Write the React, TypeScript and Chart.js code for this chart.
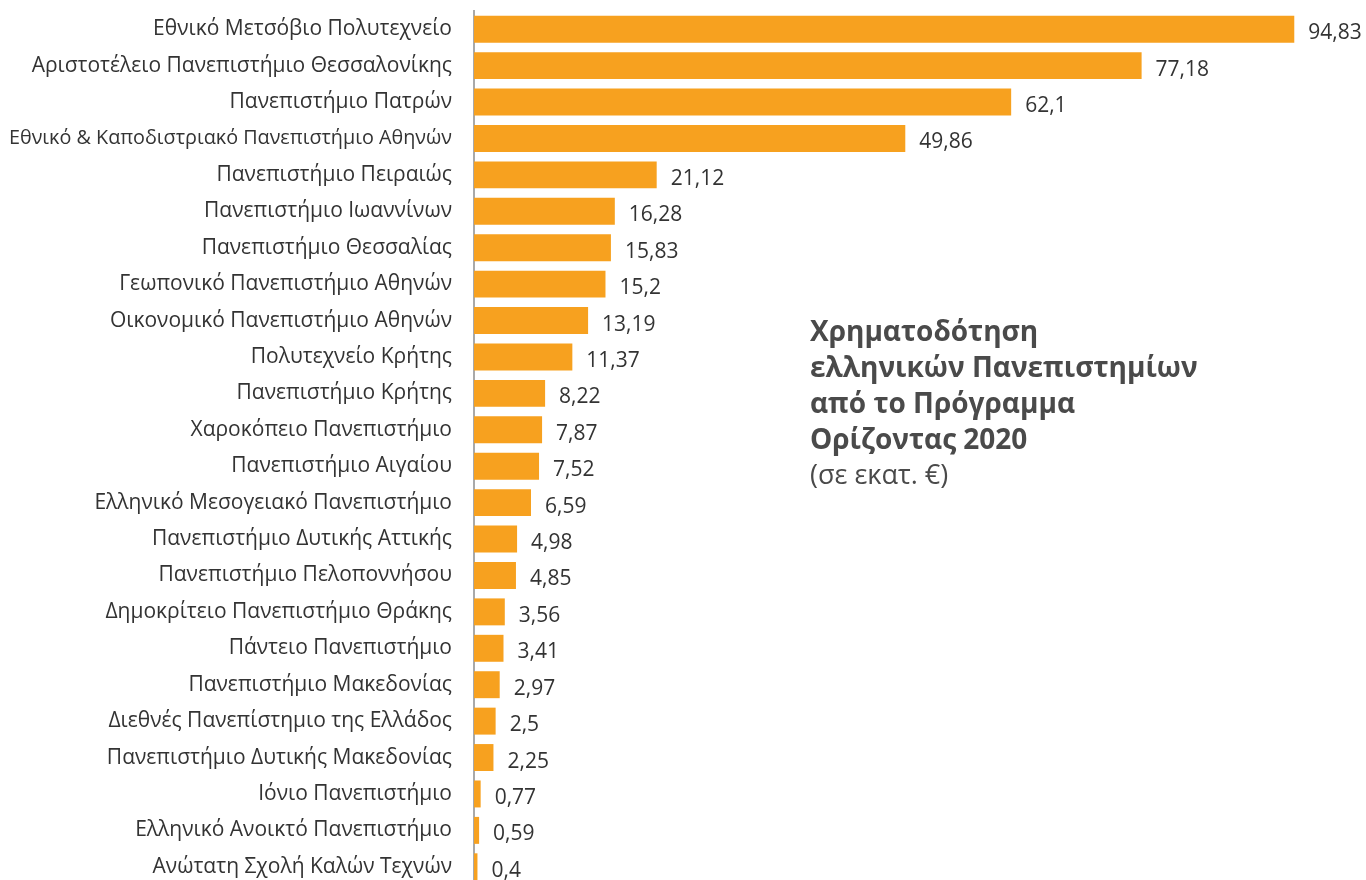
import React, { useEffect, useRef } from "react";
import { Chart, registerables } from "chart.js";

Chart.register(...registerables);

const universities: string[] = [
  "Εθνικό Μετσόβιο Πολυτεχνείο",
  "Αριστοτέλειο Πανεπιστήμιο Θεσσαλονίκης",
  "Πανεπιστήμιο Πατρών",
  "Εθνικό & Καποδιστριακό Πανεπιστήμιο Αθηνών",
  "Πανεπιστήμιο Πειραιώς",
  "Πανεπιστήμιο Ιωαννίνων",
  "Πανεπιστήμιο Θεσσαλίας",
  "Γεωπονικό Πανεπιστήμιο Αθηνών",
  "Οικονομικό Πανεπιστήμιο Αθηνών",
  "Πολυτεχνείο Κρήτης",
  "Πανεπιστήμιο Κρήτης",
  "Χαροκόπειο Πανεπιστήμιο",
  "Πανεπιστήμιο Αιγαίου",
  "Ελληνικό Μεσογειακό Πανεπιστήμιο",
  "Πανεπιστήμιο Δυτικής Αττικής",
  "Πανεπιστήμιο Πελοποννήσου",
  "Δημοκρίτειο Πανεπιστήμιο Θράκης",
  "Πάντειο Πανεπιστήμιο",
  "Πανεπιστήμιο Μακεδονίας",
  "Διεθνές Πανεπίστημιο της Ελλάδος",
  "Πανεπιστήμιο Δυτικής Μακεδονίας",
  "Ιόνιο Πανεπιστήμιο",
  "Ελληνικό Ανοικτό Πανεπιστήμιο",
  "Ανώτατη Σχολή Καλών Τεχνών",
];

const funding: number[] = [
  94.83, 77.18, 62.1, 49.86, 21.12, 16.28, 15.83, 15.2, 13.19, 11.37, 8.22,
  7.87, 7.52, 6.59, 4.98, 4.85, 3.56, 3.41, 2.97, 2.5, 2.25, 0.77, 0.59, 0.4,
];

const titleLines: string[] = [
  "Χρηματοδότηση",
  "ελληνικών Πανεπιστημίων",
  "από το Πρόγραμμα",
  "Ορίζοντας 2020",
];
const subtitle = "(σε εκατ. €)";

const FONT = "'Open Sans', 'Noto Sans', sans-serif";

const valueLabels = {
  id: "valueLabels",
  afterDatasetsDraw(chart: any) {
    const ctx = chart.ctx;
    const meta = chart.getDatasetMeta(0);
    ctx.save();
    ctx.font = `21px ${FONT}`;
    ctx.fillStyle = "#333333";
    ctx.textAlign = "left";
    ctx.textBaseline = "middle";
    meta.data.forEach((bar: any, i: number) => {
      const v = funding[i];
      const txt = String(v).replace(".", ",");
      ctx.fillText(txt, bar.x + 14, bar.y + 4);
    });
    ctx.restore();
  },
};

export default function App() {
  const canvasRef = useRef<HTMLCanvasElement | null>(null);

  useEffect(() => {
    document.body.style.margin = "0";
    document.body.style.overflow = "hidden";
    const canvas = canvasRef.current;
    if (!canvas) return;
    const chart = new Chart(canvas, {
      type: "bar",
      data: {
        labels: universities,
        datasets: [
          {
            data: funding,
            backgroundColor: "#F7A11F",
            barPercentage: 0.74,
            categoryPercentage: 1,
          },
        ],
      },
      options: {
        indexAxis: "y",
        animation: false,
        responsive: false,
        maintainAspectRatio: false,
        layout: { padding: { top: 11, right: 27, bottom: 15, left: 0 } },
        plugins: {
          legend: { display: false },
          tooltip: { enabled: false },
          title: { display: false },
        },
        scales: {
          x: {
            display: false,
            min: 0,
            max: 100,
          },
          y: {
            afterFit(scale: any) {
              scale.width = 474;
              scale.paddingTop = 0;
              scale.paddingBottom = 0;
            },
            grid: { display: false },
            border: { display: true, color: "#a9a9a9", width: 2 },
            ticks: {
              padding: 14,
              color: "#333333",
              font: (c: any) => ({
                family: FONT,
                size: c.index === 3 ? 19.8 : 21,
              }),
              autoSkip: false,
            },
          },
        },
      },
      plugins: [valueLabels],
    });
    return () => chart.destroy();
  }, []);

  return (
    <div
      style={{
        position: "fixed",
        left: 0,
        top: 0,
        width: 1366,
        height: 880,
        overflow: "hidden",
        background: "#ffffff",
      }}
    >
      <canvas
        ref={canvasRef}
        width={1366}
        height={900}
        style={{ position: "absolute", left: 0, top: 0, width: 1366, height: 900 }}
      />
      <div
        style={{
          position: "absolute",
          left: 810,
          top: 312,
          fontFamily: FONT,
          color: "#4a4a4a",
        }}
      >
        {titleLines.map((l) => (
          <div key={l} style={{ fontSize: 28, fontWeight: 700, lineHeight: "36px" }}>
            {l}
          </div>
        ))}
        <div style={{ fontSize: 27, lineHeight: "36px" }}>{subtitle}</div>
      </div>
    </div>
  );
}
